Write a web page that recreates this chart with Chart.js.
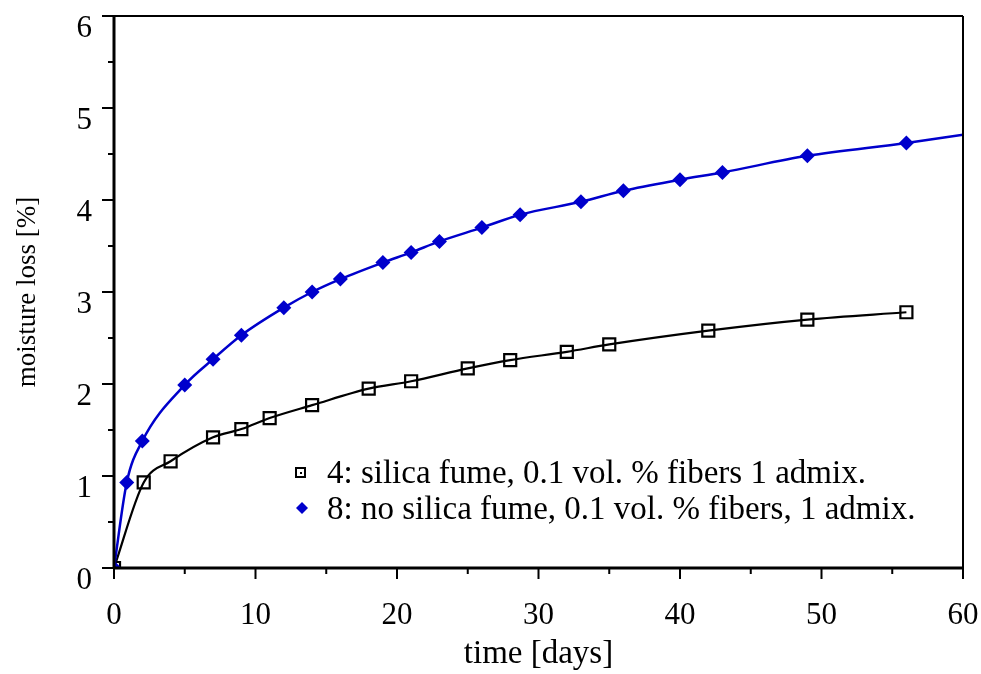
<!DOCTYPE html>
<html><head><meta charset="utf-8">
<script src="https://cdn.jsdelivr.net/npm/chart.js@4/dist/chart.umd.min.js"></script>
<style>html,body{margin:0;padding:0;background:#fff;}</style>
</head><body>
<canvas id="c" width="981" height="674"></canvas>
<script>
// ---- data ----
const days4 = [0, 2.1, 4, 7, 9, 11, 14, 18, 21, 25, 28, 32, 35, 42, 49, 56];
const loss4 = [0, 0.93, 1.16, 1.42, 1.51, 1.63, 1.77, 1.95, 2.03, 2.17, 2.26, 2.35, 2.43, 2.58, 2.70, 2.78];
const days8 = [0, 0.9, 2, 5, 7, 9, 12, 14, 16, 19, 21, 23, 26, 28.7, 33, 36, 40, 43, 49, 56, 60];
const loss8 = [0, 0.93, 1.38, 1.99, 2.27, 2.53, 2.83, 3.0, 3.14, 3.32, 3.43, 3.55, 3.70, 3.84, 3.98, 4.10, 4.22, 4.30, 4.48, 4.62, 4.71];
const label4 = "4: silica fume, 0.1 vol. % fibers 1 admix.";
const label8 = "8: no silica fume, 0.1 vol. % fibers, 1 admix.";
const xTitle = "time [days]";
const yTitle = "moisture loss [%]";
const xRange = [0, 60], xStep = 10, xMinorStep = 5;
const yRange = [0, 6], yStep = 1, yMinorStep = 0.5;

const FONT = '"Liberation Serif", "Times New Roman", serif';
const BLUE = '#0000cc';
const pts = (xs, ys) => xs.map((x, i) => ({x, y: ys[i]}));

const framePlugin = {
  id: 'frame',
  afterDraw(chart) {
    const {ctx, chartArea: a, scales} = chart;
    const xs = scales.x, ys = scales.y;
    ctx.save();
    ctx.strokeStyle = '#000';
    ctx.lineCap = 'butt';
    ctx.lineWidth = 2;
    ctx.beginPath();
    ctx.moveTo(a.left, a.top); ctx.lineTo(a.right, a.top);
    ctx.moveTo(a.right, a.top); ctx.lineTo(a.right, a.bottom);
    ctx.stroke();
    ctx.lineWidth = 3;
    ctx.beginPath();
    ctx.moveTo(a.left, a.top - 1); ctx.lineTo(a.left, a.bottom + 1);
    ctx.moveTo(a.left - 1, a.bottom); ctx.lineTo(a.right + 1, a.bottom);
    ctx.stroke();
    ctx.lineWidth = 2;
    ctx.beginPath();
    for (let v = yRange[0]; v <= yRange[1] + 1e-9; v += yMinorStep) {
      const p = ys.getPixelForValue(v);
      const major = Math.abs(v / yStep - Math.round(v / yStep)) < 1e-6;
      ctx.moveTo(a.left - (major ? 12 : 6), p); ctx.lineTo(a.left, p);
    }
    for (let v = xRange[0]; v <= xRange[1] + 1e-9; v += xMinorStep) {
      const p = xs.getPixelForValue(v);
      const major = Math.abs(v / xStep - Math.round(v / xStep)) < 1e-6;
      ctx.moveTo(p, a.bottom); ctx.lineTo(p, a.bottom + (major ? 11 : 6));
    }
    ctx.stroke();
    // legend
    ctx.font = '33px ' + FONT;
    ctx.fillStyle = '#000';
    ctx.textBaseline = 'alphabetic';
    ctx.fillText(label4, 327, 483);
    ctx.fillText(label8, 327, 519);
    ctx.lineWidth = 2;
    ctx.strokeStyle = '#000';
    ctx.strokeRect(296, 468, 9, 9);
    ctx.fillRect(300, 472, 2, 2);
    ctx.fillStyle = BLUE;
    ctx.beginPath();
    ctx.moveTo(302, 502); ctx.lineTo(308, 508); ctx.lineTo(302, 514); ctx.lineTo(296, 508);
    ctx.closePath(); ctx.fill();
    ctx.restore();
  }
};

new Chart(document.getElementById('c'), {
  type: 'scatter',
  data: {
    datasets: [
      {
        label: label8,
        data: pts(days8, loss8),
        showLine: true,
        borderColor: BLUE,
        backgroundColor: BLUE,
        borderWidth: 2.5,
        pointStyle: 'rectRot',
        pointRadius: c => (c.dataIndex === days8.length - 1 ? 0 : 7.5),
        pointBorderWidth: 0,
        cubicInterpolationMode: 'monotone',
        order: 0
      },
      {
        label: label4,
        data: pts(days4, loss4),
        showLine: true,
        borderColor: '#000',
        backgroundColor: '#fff',
        borderWidth: 2.2,
        pointStyle: 'rect',
        pointRadius: 8.5,
        pointBorderWidth: 2.2,
        pointBorderColor: '#000',
        pointBackgroundColor: 'rgba(255,255,255,0)',
        cubicInterpolationMode: 'monotone',
        order: 1
      }
    ]
  },
  options: {
    responsive: false,
    animation: false,
    devicePixelRatio: 1,
    layout: {padding: {left: 0, right: 18, top: 16, bottom: 0}},
    plugins: {legend: {display: false}, tooltip: {enabled: false}},
    scales: {
      x: {
        type: 'linear', min: xRange[0], max: xRange[1],
        grid: {display: false},
        border: {display: false},
        ticks: {stepSize: xStep, color: '#000', font: {family: FONT, size: 31}, padding: 21, maxRotation: 0},
        title: {display: true, text: xTitle, color: '#000', font: {family: FONT, size: 33}, padding: {top: 0, bottom: 0}},
        afterFit: s => { s.height = 674 - 568; s.paddingLeft = 0; s.paddingRight = 0; }
      },
      y: {
        type: 'linear', min: yRange[0], max: yRange[1],
        grid: {display: false},
        border: {display: false},
        ticks: {stepSize: yStep, color: '#000', font: {family: FONT, size: 31}, padding: 14, labelOffset: 13},
        title: {display: true, text: yTitle, color: '#000', font: {family: FONT, size: 27}, padding: {top: 12, bottom: 0}},
        afterFit: s => { s.width = 114; s.paddingTop = 0; s.paddingBottom = 0; }
      }
    }
  },
  plugins: [framePlugin]
});
</script>
</body></html>
